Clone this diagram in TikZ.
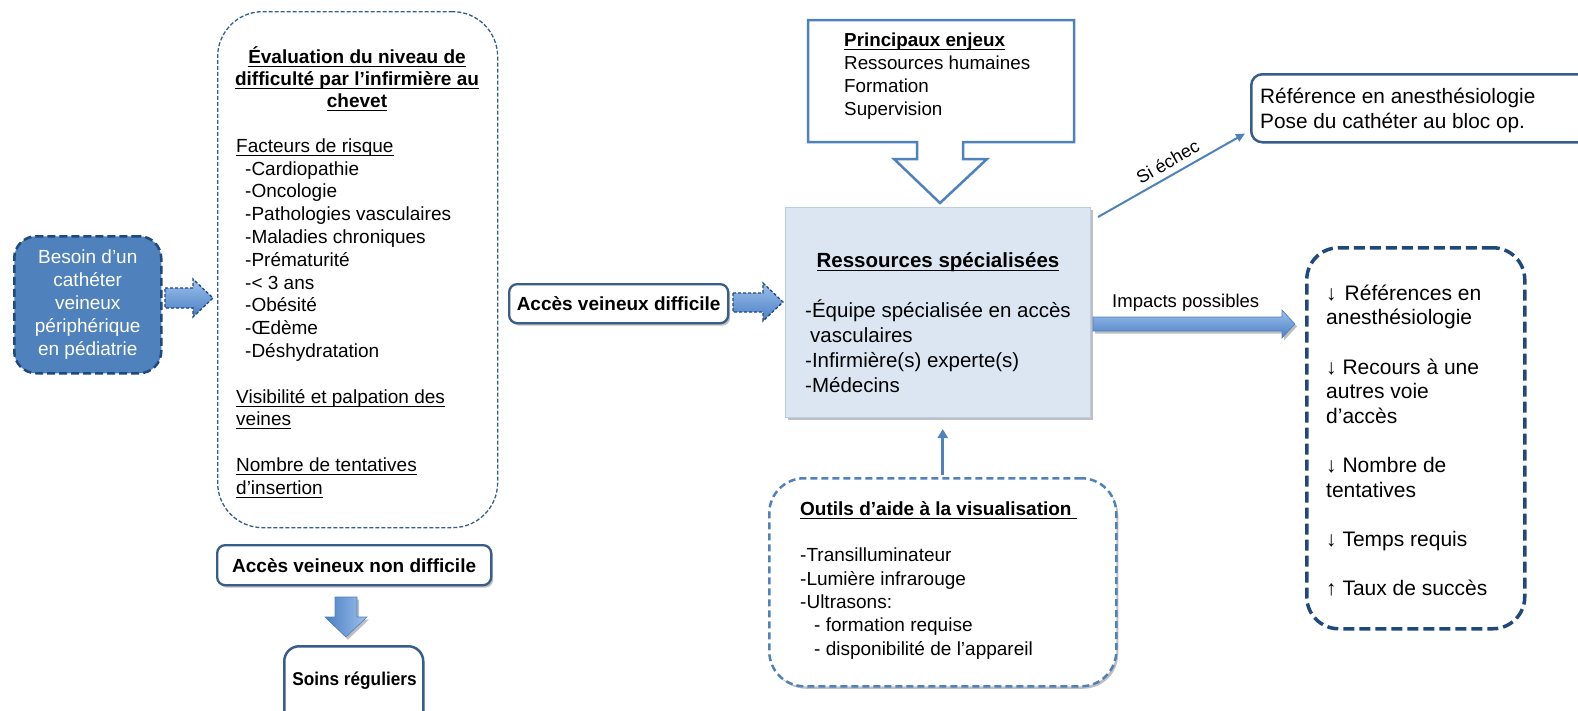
\documentclass[tikz,border=0pt]{standalone}
\usepackage{fontspec}
\setmainfont{Liberation Sans}
\usetikzlibrary{shadows,calc,arrows.meta}
\definecolor{obl}{HTML}{4F81BD}
\definecolor{onavy}{HTML}{1F497D}
\definecolor{odk}{HTML}{385D8A}
\definecolor{resfill}{HTML}{DCE6F2}
\definecolor{resline}{HTML}{B9CDE5}
\definecolor{arrlight}{HTML}{9DC0EC}
\definecolor{arrdark}{HTML}{4A7FC4}
\newsavebox{\ulbox}
\newcommand{\uln}[1]{\sbox{\ulbox}{#1}\rlap{\rule[-3.6pt]{\wd\ulbox}{1.1pt}}\usebox{\ulbox}}
\newcommand{\sizeN}{\fontsize{19}{23}\selectfont}
\newcommand{\sizeE}{\fontsize{19}{22.8}\selectfont}
\newcommand{\sizeEB}{\fontsize{19}{22.2}\selectfont\bfseries}
\newcommand{\sizeR}{\fontsize{20.5}{25}\selectfont}
\newcommand{\sizeRB}{\fontsize{20.5}{25}\selectfont\bfseries}
\newcommand{\sizeP}{\fontsize{18.8}{23}\selectfont}
\newcommand{\sizeT}{\fontsize{20.8}{25}\selectfont}
\newcommand{\sizeI}{\fontsize{21}{24.6}\selectfont}
\newcommand{\sizeO}{\fontsize{19}{23.3}\selectfont}
\newcommand{\sizeB}{\fontsize{19}{23}\selectfont\bfseries}
\newcommand{\firstln}{\rule{0pt}{20pt}}
\begin{document}
\begin{tikzpicture}[x=1pt,y=-1pt,
  txt/.style={inner sep=0pt, text=black},
  softshadow/.style={drop shadow={shadow xshift=2pt,shadow yshift=-2.5pt,opacity=0.25,fill=black}},
  needbox/.style={draw=onavy, fill=obl, line width=2.5pt, dash pattern=on 8pt off 4pt, rounded corners=22pt, text=white, font=\sizeN, align=center},
  evalbox/.style={draw=odk, line width=1.3pt, dash pattern=on 4pt off 2pt, rounded corners=45pt},
  accbox/.style={draw=odk, fill=white, line width=2.3pt, rounded corners=8pt, font=\sizeB, softshadow},
  resbox/.style={draw=resline, fill=resfill, line width=1pt, softshadow},
  refbox/.style={draw=odk, fill=white, line width=2.5pt, rounded corners=11pt},
  impbox/.style={draw=onavy, line width=3.5pt, dash pattern=on 11pt off 5pt, rounded corners=32pt},
  toolbox/.style={draw=obl, fill=white, line width=2.5pt, dash pattern=on 7pt off 4pt, rounded corners=35pt, softshadow},
  soinsbox/.style={draw=odk, fill=white, line width=2.5pt, rounded corners=15pt},
  blockarr/.style={top color=arrlight, bottom color=arrdark, draw=obl, line width=0.6pt},
  dblockarr/.style={top color=arrlight, bottom color=arrdark, draw=onavy, line width=1.3pt, dash pattern=on 3pt off 2pt},
  downarr/.style={left color=arrdark, right color=arrlight, draw=obl, line width=0.6pt, softshadow},
  callout/.style={draw=obl, fill=white, line width=2.5pt},
  conn/.style={draw=obl, line width=2pt, -{Triangle[length=9pt,width=8pt]}},
  upconn/.style={draw=obl, line width=3pt, -{Triangle[length=9pt,width=10pt]}}
]
\path[use as bounding box] (0,0) rectangle (1578,710);
\clip (0,0) rectangle (1578,710);

% starting need
\node[needbox, minimum width=147pt, minimum height=137pt, anchor=north west] (need) at (13,235)
  {Besoin d’un\\cathéter\\veineux\\périphérique\\en pédiatrie};

% arrow need -> eval
\path[dblockarr] (165,288) -- (193,288) -- (193,279) -- (213,298) -- (193,317) -- (193,308) -- (165,308) -- cycle;

% evaluation box
\node[evalbox, minimum width=280pt, minimum height=516pt, anchor=north west] (eval) at (217,11) {};
\node[txt, font=\sizeEB, align=center, anchor=north] (evaltitle) at (357,43)
  {\firstln\uln{Évaluation du niveau de}\\\uln{difficulté par l’infirmière au}\\\uln{chevet}};
\node[txt, font=\sizeE, align=left, anchor=north west] (evalbody) at (236,132)
  {\firstln\uln{Facteurs de risque}\\
   \hspace*{9pt}-Cardiopathie\\
   \hspace*{9pt}-Oncologie\\
   \hspace*{9pt}-Pathologies vasculaires\\
   \hspace*{9pt}-Maladies chroniques\\
   \hspace*{9pt}-Prématurité\\
   \hspace*{9pt}-< 3 ans\\
   \hspace*{9pt}-Obésité\\
   \hspace*{9pt}-Œdème\\
   \hspace*{9pt}-Déshydratation\\[22.8pt]
   \uln{Visibilité et palpation des}\\
   \uln{veines}\\[22.8pt]
   \uln{Nombre de tentatives}\\
   \uln{d’insertion}};

% non difficile branch
\node[accbox, minimum width=274pt, minimum height=40pt, anchor=north west] (nond) at (216,544) {Accès veineux non difficile};
\path[downarr] (335,597) -- (357,597) -- (357,617) -- (367,617) -- (346,637) -- (325,617) -- (335,617) -- cycle;
\node[soinsbox, minimum width=139pt, minimum height=100pt, anchor=north west] (soins) at (283,645) {};
\node[txt, font=\fontsize{18.5}{20}\selectfont\bfseries, anchor=base] (soinstxt) at (354.5,685) {\scalebox{0.93}[1]{Soins réguliers}};

% difficile branch
\node[accbox, minimum width=219pt, minimum height=39pt, anchor=north west] (diff) at (508,283) {Accès veineux difficile};
\path[dblockarr] (733,293) -- (763,293) -- (763,283) -- (783,302) -- (763,321) -- (763,312) -- (733,312) -- cycle;

% ressources
\node[resbox, minimum width=305pt, minimum height=210pt, anchor=north west] (res) at (785,207) {};
\node[txt, font=\sizeRB, anchor=north] (restitle) at (938,247) {\firstln\uln{Ressources spécialisées}};
\node[txt, font=\sizeR, align=left, anchor=north west] (resbody) at (805,297)
  {\firstln-Équipe spécialisée en accès\\\hspace*{5pt}vasculaires\\-Infirmière(s) experte(s)\\-Médecins};

% principaux enjeux callout
\path[callout] (808,20) -- (1074,20) -- (1074,142) -- (963,142) -- (963,159) -- (987,159) -- (940,203)
  -- (894,159) -- (917,159) -- (917,142) -- (808,142) -- cycle;
\node[txt, font=\sizeP, align=left, anchor=north west] (enjeux) at (844,26)
  {\firstln\textbf{\uln{Principaux enjeux}}\\Ressources humaines\\Formation\\Supervision};

% reference box
\node[refbox, minimum width=400pt, minimum height=68pt, anchor=north west] (ref) at (1250,73) {};
\node[txt, font=\sizeT, align=left, anchor=north west] (reftxt) at (1260,83)
  {\firstln Référence en anesthésiologie\\Pose du cathéter au bloc op.};
\draw[conn] ($(res.north east)+(7,10)$) -- node[sloped, above, pos=0.52, font=\fontsize{18}{20}\selectfont, inner sep=6pt] {Si échec} ($(ref.south west)+(-5,-10)$);

% impacts
\path[blockarr, softshadow] (1093,317) -- (1282,317) -- (1282,310) -- (1295,324) -- (1282,338) -- (1282,331) -- (1093,331) -- cycle;
\node[txt, font=\fontsize{18.5}{20}\selectfont, anchor=base west] (imptxt) at (1112,307) {Impacts possibles};
\node[impbox, minimum width=218pt, minimum height=381pt, anchor=north west] (imp) at (1305,246) {};
\node[txt, font=\sizeI, align=left, anchor=north west] (impbody) at (1326,280)
  {\firstln↓\hspace{8pt}Références en\\anesthésiologie\\[24.6pt]
   ↓ Recours à une\\autres voie\\d’accès\\[24.6pt]
   ↓ Nombre de\\tentatives\\[24.6pt]
   ↓ Temps requis\\[24.6pt]
   ↑ Taux de succès};

% tools
\node[toolbox, minimum width=347pt, minimum height=208pt, anchor=north west] (tools) at (768,477) {};
\node[txt, font=\sizeO, align=left, anchor=north west] (toolstxt) at (800,495)
  {\firstln\textbf{\uln{Outils d’aide à la visualisation }}\\[23.3pt]
   -Transilluminateur\\-Lumière infrarouge\\-Ultrasons:\\
   \hspace*{14pt}- formation requise\\\hspace*{14pt}- disponibilité de l’appareil};
\draw[upconn, shorten >=11pt] ([yshift=2pt]tools.north) -- (tools.north |- res.south);
\end{tikzpicture}
\end{document}
